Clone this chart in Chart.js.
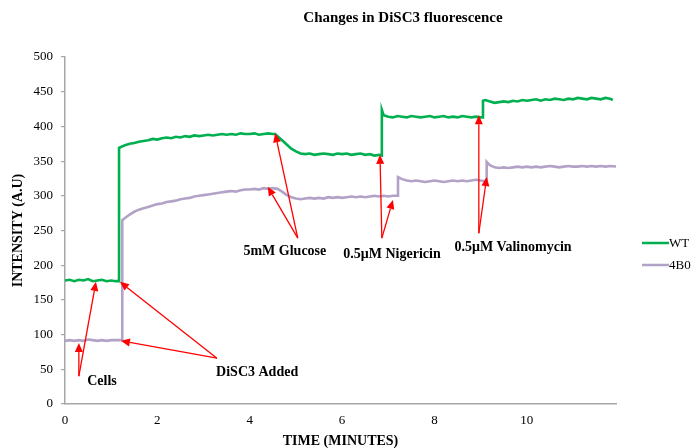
<!DOCTYPE html>
<html>
<head>
<meta charset="utf-8">
<script src="https://cdn.jsdelivr.net/npm/chart.js@4/dist/chart.umd.min.js"></script>
<style>
  body { margin: 0; background: #fff; }
  canvas { display: block; }
</style>
</head>
<body>
<canvas id="chart" width="694" height="448"></canvas>
<script>
// ===== Data =====
const chartTitle = "Changes in DiSC3 fluorescence";
const xTitle = "TIME (MINUTES)";
const yTitle = "INTENSITY (A.U)";
const seriesNames = ["WT", "4B0"];
const seriesColors = ["#00b050", "#b3a2c7"];

const wtTime = [
  0, 0.1, 0.2, 0.3, 0.4, 0.5, 0.6, 0.7, 0.8, 0.9, 1.0, 1.1, 1.17,
  1.17, 1.2, 1.3, 1.4, 1.5, 1.6, 1.7, 1.8, 1.9, 2.0, 2.1, 2.2, 2.3, 2.4, 2.5,
  2.6, 2.7, 2.8, 2.9, 3.0, 3.1, 3.2, 3.3, 3.4, 3.5, 3.6, 3.7, 3.8, 3.9, 4.0,
  4.1, 4.2, 4.3, 4.4, 4.5, 4.55, 4.6, 4.7, 4.8, 4.9, 5.0, 5.1, 5.2, 5.3, 5.4,
  5.5, 5.6, 5.7, 5.8, 5.9, 6.0, 6.1, 6.2, 6.3, 6.4, 6.5, 6.6, 6.7, 6.8, 6.86,
  6.86, 6.9, 7.0, 7.1, 7.2, 7.3, 7.4, 7.5, 7.6, 7.7, 7.8, 7.9, 8.0, 8.1, 8.2,
  8.3, 8.4, 8.5, 8.6, 8.7, 8.8, 8.9, 9.0, 9.05,
  9.05, 9.1, 9.2, 9.3, 9.4, 9.5, 9.6, 9.7, 9.8, 9.9, 10.0, 10.1, 10.2, 10.3,
  10.4, 10.5, 10.6, 10.7, 10.8, 10.9, 11.0, 11.1, 11.2, 11.3, 11.4, 11.5,
  11.6, 11.7, 11.8, 11.86
];
const wtValue = [
  178, 179, 177, 179, 178, 180, 177, 178, 179, 177, 178, 177, 177,
  369, 370, 373, 375, 376, 378, 379, 380, 382, 381, 383, 384, 383, 385, 384,
  386, 385, 387, 386, 387, 388, 387, 388, 389, 388, 389, 388, 390, 389, 389,
  390, 388, 389, 390, 389, 389, 386, 380, 374, 368, 364, 361, 360, 361, 359,
  360, 361, 360, 359, 361, 360, 361, 359, 360, 361, 359, 360, 358, 359, 358,
  424, 416, 414, 413, 415, 414, 413, 415, 414, 413, 414, 415, 413, 414, 415,
  413, 414, 413, 415, 414, 413, 414, 413, 413,
  437, 438, 436, 434, 435, 436, 435, 437, 436, 438, 437, 438, 439, 437,
  439, 438, 440, 439, 438, 440, 439, 441, 440, 439, 441, 440,
  439, 441, 440, 438
];

const b0Time = [
  0, 0.1, 0.2, 0.3, 0.4, 0.5, 0.6, 0.7, 0.8, 0.9, 1.0, 1.1, 1.24,
  1.24, 1.3, 1.4, 1.5, 1.6, 1.7, 1.8, 1.9, 2.0, 2.1, 2.2, 2.3, 2.4, 2.5, 2.6,
  2.7, 2.8, 2.9, 3.0, 3.1, 3.2, 3.3, 3.4, 3.5, 3.6, 3.7, 3.8, 3.9, 4.0, 4.1,
  4.2, 4.3, 4.4, 4.5, 4.6, 4.7, 4.8, 4.9, 5.0, 5.1, 5.2, 5.3, 5.4, 5.5, 5.6,
  5.7, 5.8, 5.9, 6.0, 6.1, 6.2, 6.3, 6.4, 6.5, 6.6, 6.7, 6.8, 6.9, 7.0, 7.1,
  7.21,
  7.21, 7.3, 7.4, 7.5, 7.6, 7.7, 7.8, 7.9, 8.0, 8.1, 8.2, 8.3, 8.4, 8.5, 8.6,
  8.7, 8.8, 8.9, 9.0, 9.13,
  9.13, 9.2, 9.3, 9.4, 9.5, 9.6, 9.7, 9.8, 9.9, 10.0, 10.1, 10.2, 10.3, 10.4,
  10.5, 10.6, 10.7, 10.8, 10.9, 11.0, 11.1, 11.2, 11.3, 11.4, 11.5, 11.6,
  11.7, 11.8, 11.95
];
const b0Value = [
  91, 92, 91, 92, 91, 93, 92, 91, 92, 91, 92, 92, 92,
  265, 268, 273, 277, 280, 282, 284, 286, 288, 289, 291, 292, 293, 295, 296,
  297, 299, 300, 301, 302, 303, 304, 305, 306, 307, 306, 308, 309, 309, 310,
  309, 311, 310, 311, 310, 306, 301, 298, 296, 295, 296, 297, 296, 297, 296,
  298, 297, 298, 297, 298, 299, 298, 299, 298, 299, 300, 299, 300, 299, 300,
  300,
  327, 324, 322, 321, 322, 321, 320, 321, 322, 321, 320, 321, 322, 321, 322,
  321, 322, 323, 322, 321,
  349, 344, 341, 340, 341, 340, 341, 342, 341, 342, 341, 342, 341, 342,
  343, 342, 341, 342, 343, 342, 342, 343, 342, 343, 342, 343,
  342, 343, 342
];

const xTicks = [0, 2, 4, 6, 8, 10];

// annotation labels and arrows, in data units (minutes, intensity)
const notes = [
  { text: "Cells",              at: [0.80, 32],  from: [0.30, 40],  tips: [[0.30, 88], [0.67, 176]] },
  { text: "DiSC3 Added",        at: [4.16, 46],  from: [3.29, 66],  tips: [[1.19, 176], [1.21, 91]] },
  { text: "5mM Glucose",        at: [4.76, 220], from: [5.04, 239], tips: [[4.55, 390], [4.39, 313]] },
  { text: "0.5\u03bcM Nigericin",   at: [7.08, 216], from: [6.86, 239], tips: [[6.82, 359], [7.10, 294]] },
  { text: "0.5\u03bcM Valinomycin", at: [9.70, 226], from: [8.96, 246], tips: [[8.96, 416], [9.13, 327]] }
];

const SERIF = "'Liberation Serif', 'DejaVu Serif', serif";
const AXIS_GREY = "#a6a6a6";

function toPoints(xs, ys) {
  return xs.map((x, i) => ({ x: x, y: ys[i] }));
}

function arrow(ctx, x1, y1, x2, y2) {
  const a = Math.atan2(y2 - y1, x2 - x1);
  const len = 9, half = 4;
  const bx = x2 - len * Math.cos(a), by = y2 - len * Math.sin(a);
  ctx.beginPath();
  ctx.moveTo(x1, y1);
  ctx.lineTo(bx, by);
  ctx.stroke();
  ctx.beginPath();
  ctx.moveTo(x2, y2);
  ctx.lineTo(bx + half * Math.sin(a), by - half * Math.cos(a));
  ctx.lineTo(bx - half * Math.sin(a), by + half * Math.cos(a));
  ctx.closePath();
  ctx.fill();
}

// title, legend and arrows drawn on top
const extras = {
  id: "extras",
  afterDraw(chart) {
    const ctx = chart.ctx;
    const xs = chart.scales.x, ys = chart.scales.y;
    const area = chart.chartArea;
    ctx.save();

    // title
    ctx.fillStyle = "#000";
    ctx.font = "bold 15px " + SERIF;
    ctx.textAlign = "center";
    ctx.textBaseline = "middle";
    ctx.fillText(chartTitle, 403, 18);

    // annotations
    ctx.strokeStyle = "#ff0000";
    ctx.fillStyle = "#ff0000";
    ctx.lineWidth = 1.3;
    notes.forEach(n => {
      const fx = xs.getPixelForValue(n.from[0]);
      const fy = ys.getPixelForValue(n.from[1]);
      n.tips.forEach(t => {
        arrow(ctx, fx, fy, xs.getPixelForValue(t[0]), ys.getPixelForValue(t[1]));
      });
    });
    ctx.fillStyle = "#000";
    ctx.font = "bold 14px " + SERIF;
    notes.forEach(n => {
      ctx.fillText(n.text, xs.getPixelForValue(n.at[0]), ys.getPixelForValue(n.at[1]));
    });

    // legend
    ctx.font = "13px " + SERIF;
    ctx.textAlign = "left";
    ctx.lineWidth = 2.5;
    seriesNames.forEach((name, i) => {
      const y = 243 + i * 22;
      const x0 = area.right + 26;
      ctx.strokeStyle = seriesColors[i];
      ctx.beginPath();
      ctx.moveTo(x0, y);
      ctx.lineTo(x0 + 27, y);
      ctx.stroke();
      ctx.fillStyle = "#000";
      ctx.fillText(name, x0 + 27, y + 1);
    });
    ctx.restore();
  }
};

new Chart(document.getElementById("chart"), {
  type: "scatter",
  data: {
    datasets: [
      {
        label: seriesNames[0],
        data: toPoints(wtTime, wtValue),
        showLine: true,
        borderColor: seriesColors[0],
        borderWidth: 2.6,
        pointRadius: 0,
        tension: 0
      },
      {
        label: seriesNames[1],
        data: toPoints(b0Time, b0Value),
        showLine: true,
        borderColor: seriesColors[1],
        borderWidth: 2.6,
        pointRadius: 0,
        tension: 0
      }
    ]
  },
  options: {
    responsive: false,
    animation: false,
    layout: { padding: { top: 57, right: 78, bottom: 0, left: 0 } },
    plugins: {
      legend: { display: false },
      title: { display: false },
      tooltip: { enabled: false }
    },
    scales: {
      x: {
        type: "linear",
        min: 0,
        max: 11.93,
        afterBuildTicks: s => { s.ticks = xTicks.map(v => ({ value: v })); },
        afterFit: s => { s.height = 44; },
        grid: { display: false, drawTicks: false },
        border: { display: true, color: AXIS_GREY, width: 1.5 },
        ticks: {
          padding: 9,
          color: "#000",
          font: { family: SERIF, size: 13 },
          maxRotation: 0
        },
        title: {
          display: true,
          text: xTitle,
          color: "#000",
          font: { family: SERIF, size: 14, weight: "bold", lineHeight: 1 },
          padding: { top: 0, bottom: 0 }
        }
      },
      y: {
        min: 0,
        max: 500,
        afterFit: s => { s.width = 65; },
        grid: {
          display: true,
          drawOnChartArea: false,
          drawTicks: true,
          tickLength: 4,
          color: AXIS_GREY,
          lineWidth: 1.2
        },
        border: { display: true, color: AXIS_GREY, width: 1.5 },
        ticks: {
          stepSize: 50,
          padding: 8,
          color: "#000",
          font: { family: SERIF, size: 13 }
        },
        title: {
          display: true,
          text: yTitle,
          color: "#000",
          font: { family: SERIF, size: 14, weight: "bold", lineHeight: 1.2 },
          padding: { top: 10, bottom: 0 }
        }
      }
    }
  },
  plugins: [extras]
});
</script>
</body>
</html>
